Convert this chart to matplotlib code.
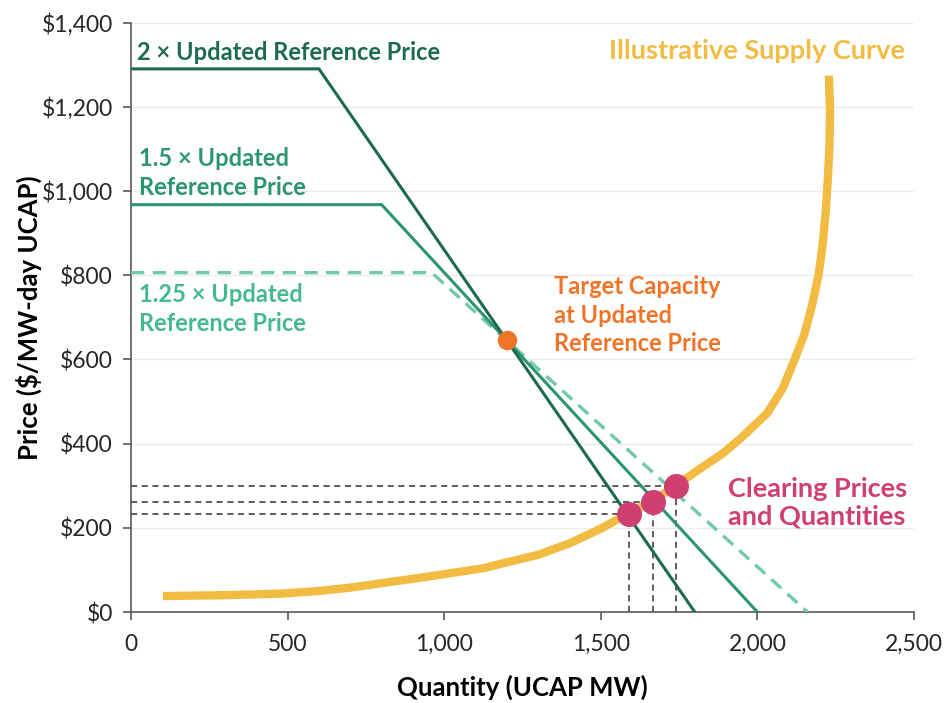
import matplotlib.pyplot as plt
from matplotlib.ticker import FuncFormatter

plt.rcParams['font.family'] = ['Lato', 'DejaVu Sans']

# demand curves (quantity, price)
q_2x = [0, 600, 1800]
p_2x = [1290, 1290, 0]
q_15x = [0, 800, 2000]
p_15x = [967.5, 967.5, 0]
q_125x = [0, 960, 2160]
p_125x = [806, 806, 0]

# illustrative supply curve
supply_q = [102, 200, 300, 400, 485, 600, 700, 805, 900, 1000, 1124, 1200, 1300,
            1400, 1500, 1590, 1665, 1740, 1810, 1890, 1950, 2031, 2080, 2114,
            2150, 2175, 2195, 2208, 2218, 2225, 2230, 2232, 2228]
supply_p = [38, 39, 40, 42, 44, 50, 58, 69, 79, 90, 104, 118, 136,
            163, 198, 235, 264, 300, 337, 377, 415, 472, 530, 591,
            660, 730, 800, 870, 950, 1030, 1110, 1190, 1274]

target_q, target_p = 1200, 645
clear_q = [1590, 1667, 1740]
clear_p = [233, 262, 300]

c_2x = '#1d6b4f'
c_15x = '#2b9472'
c_125x = '#6fcaa9'
c_supply = '#f2bc42'
c_target = '#f07427'
c_clear = '#d03f72'

fig = plt.figure(figsize=(9.46, 7.03), dpi=100)
ax = fig.add_axes([0.1385, 0.1294, 0.8277, 0.8385])

ax.set_xlim(0, 2500)
ax.set_ylim(0, 1400)
ax.set_yticks(range(0, 1401, 200))
ax.set_xticks(range(0, 2501, 500))
ax.grid(axis='y', color='#ebebeb', lw=0.9)
ax.set_axisbelow(True)

# dashed guides to the clearing points
for q, p in zip(clear_q, clear_p):
    ax.plot([0, q], [p, p], color='#333333', lw=1.1, ls=(0, (4, 3)), zorder=2)
    ax.plot([q, q], [0, p], color='#333333', lw=1.1, ls=(0, (4, 3)), zorder=2)

ax.plot(supply_q, supply_p, color=c_supply, lw=6, solid_capstyle='butt',
        solid_joinstyle='round', zorder=3)
ax.plot(q_125x, p_125x, color=c_125x, lw=2.4, ls=(0, (4, 2.5)), zorder=4)
ax.plot(q_15x, p_15x, color=c_15x, lw=2.2, zorder=4)
ax.plot(q_2x, p_2x, color=c_2x, lw=2.2, zorder=4)

ax.plot(target_q, target_p, 'o', color=c_target, ms=13, zorder=5)
ax.plot(clear_q, clear_p, 'o', color=c_clear, ms=17, ls='none', zorder=5)

kw = dict(fontsize=17, fontweight='bold', va='center', ha='left', linespacing=1.3)
big = dict(kw, fontsize=19.5, linespacing=1.2)
ax.text(19, 1330, '2 × Updated Reference Price', color=c_2x, **kw)
ax.text(25, 1043, '1.5 × Updated\nReference Price', color=c_15x, **kw)
ax.text(25, 720, '1.25 × Updated\nReference Price', color='#45b98e', **kw)
ax.text(1349, 705, 'Target Capacity\nat Updated\nReference Price', color=c_target, **kw)
ax.text(1525, 1333, 'Illustrative Supply Curve', color=c_supply, **big)
ax.text(1905, 259, 'Clearing Prices\nand Quantities', color=c_clear, **big)

ax.yaxis.set_major_formatter(FuncFormatter(lambda v, _: '${:,.0f}'.format(v)))
ax.xaxis.set_major_formatter(FuncFormatter(lambda v, _: '{:,.0f}'.format(v)))
ax.tick_params(labelsize=16.5, labelcolor='#262626', color='#595959', length=6, width=1.2)
ax.tick_params(axis='y', pad=7)
ax.tick_params(axis='x', pad=10)

for side in ['top', 'right']:
    ax.spines[side].set_visible(False)
for side in ['left', 'bottom']:
    ax.spines[side].set_color('#595959')
    ax.spines[side].set_linewidth(1.2)

ax.set_xlabel('Quantity (UCAP MW)', fontsize=18.5, fontweight='bold', labelpad=14)
ax.set_ylabel('Price ($/MW-day UCAP)', fontsize=18.5, fontweight='bold', labelpad=0)

fig.savefig('out.png', dpi=100)
